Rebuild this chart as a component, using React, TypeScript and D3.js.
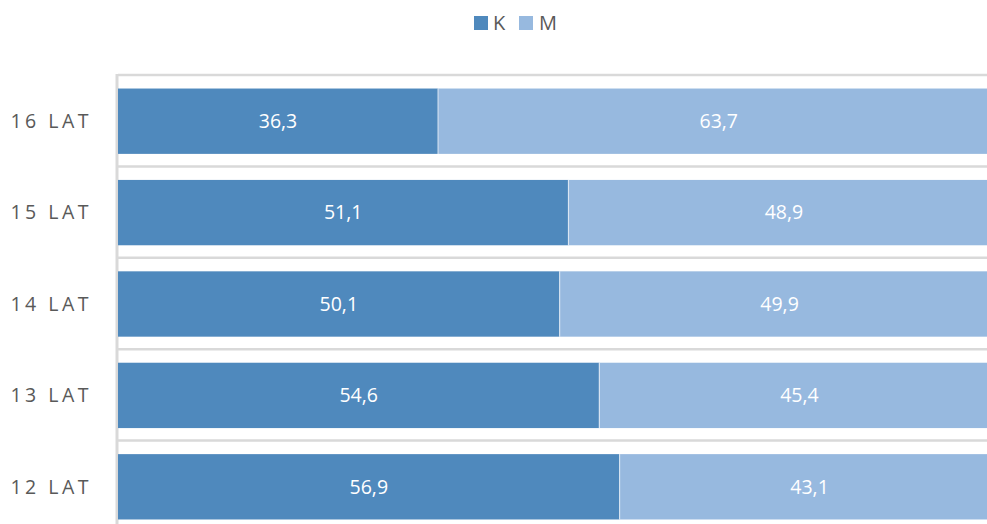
import React from "react";
import * as d3 from "d3";

const categories = ["16 LAT", "15 LAT", "14 LAT", "13 LAT", "12 LAT"];
const seriesK = [36.3, 51.1, 50.1, 54.6, 56.9];
const seriesM = [63.7, 48.9, 49.9, 45.4, 43.1];
const seriesNames = ["K", "M"];
const colors = ["#4f89bd", "#97b9df"];

const W = 987;
const H = 524;
const fmt = (v: number) => v.toFixed(1).replace(".", ",");

export default function App() {
  const x = d3.scaleLinear().domain([0, 100]).range([118, 999.5]);
  const y = d3.scaleBand<string>().domain(categories).range([75, 532]).padding(0);
  const step = y.step();
  const barOff = step * 0.148;
  const barH = step * 0.715;
  const boundaries = categories.map((c) => y(c)!).concat([y.range()[1]]);
  const font = "'Open Sans', sans-serif";

  return (
    <svg
      width={W}
      height={H}
      style={{ position: "absolute", left: 0, top: 0, overflow: "hidden" }}
      fontFamily={font}
    >
      <rect width={W} height={H} fill="#fff" />
      {boundaries.map((b, i) => (
        <line key={i} x1={118} x2={W} y1={b} y2={b} stroke="#d9d9d9" strokeWidth={2.5} />
      ))}
      <line x1={117} x2={117} y1={74} y2={H} stroke="#d9d9d9" strokeWidth={3} />
      {categories.map((c, i) => {
        const top = y(c)! + barOff;
        const k = seriesK[i];
        const m = seriesM[i];
        return (
          <g key={c}>
            <rect x={x(0)} y={top} width={x(k) - x(0)} height={barH} fill={colors[0]} />
            <rect x={x(k)} y={top} width={x(k + m) - x(k)} height={barH} fill={colors[1]} />
            <line x1={x(k)} x2={x(k)} y1={top} y2={top + barH} stroke="#fff" strokeOpacity={0.6} strokeWidth={1.2} />
            <text x={(x(0) + x(k)) / 2} y={top + barH / 2} dy="0.35em" textAnchor="middle" fill="#fff" fontSize={19.5}>
              {fmt(k)}
            </text>
            <text x={(x(k) + x(k + m)) / 2} y={top + barH / 2} dy="0.35em" textAnchor="middle" fill="#fff" fontSize={19.5}>
              {fmt(m)}
            </text>
            <text x={92} y={top + barH / 2} dy="0.35em" textAnchor="end" fill="#595959" fontSize={19.5} letterSpacing={3.5}>
              {c}
            </text>
          </g>
        );
      })}
      <g>
        <rect x={474} y={16} width={14} height={14} fill={colors[0]} />
        <text x={493} y={23} dy="0.35em" fill="#595959" fontSize={20}>{seriesNames[0]}</text>
        <rect x={519} y={16} width={14} height={14} fill={colors[1]} />
        <text x={539} y={23} dy="0.35em" fill="#595959" fontSize={20}>{seriesNames[1]}</text>
      </g>
    </svg>
  );
}
